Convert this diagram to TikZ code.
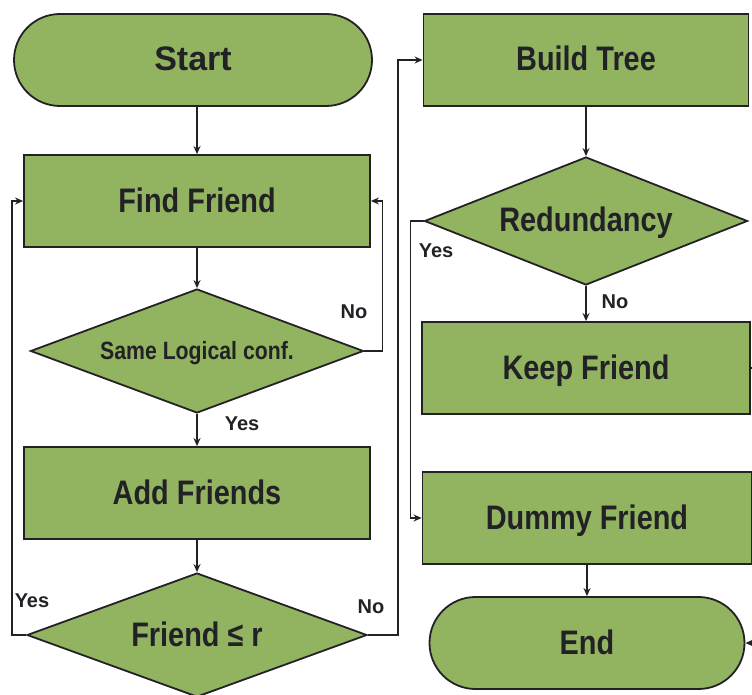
\documentclass[tikz,border=0pt]{standalone}
\usepackage{fontspec}
\usetikzlibrary{arrows.meta,shapes.geometric,shapes.misc}
\newfontfamily\chartfont[FakeStretch=0.85]{Liberation Sans}
\newfontfamily\plainfont{Liberation Sans}
\definecolor{grass}{RGB}{146,180,96}
\definecolor{ink}{RGB}{34,34,38}
\tikzset{
  >={Stealth[length=8pt,width=7pt]},
  block/.style={rectangle,draw=ink,fill=grass,line width=1.8pt,minimum width=#1,
    minimum height=92pt,inner sep=0pt,text=ink,text height=22pt,text depth=0pt,
    font=\chartfont\bfseries\fontsize{34}{38}\selectfont},
  block/.default=346pt,
  terminal/.style={block=#1,rounded rectangle},
  terminal/.default=358pt,
  decision/.style={diamond,draw=ink,fill=grass,line width=1.8pt,minimum width=#1,
    minimum height=124pt,shape aspect=2.7,inner sep=0pt,text=ink,text height=22pt,text depth=0pt,
    font=\chartfont\bfseries\fontsize{34}{38}\selectfont},
  decision/.default=340pt,
  flow/.style={->,line width=1.7pt,draw=ink},
  answer/.style={font=\plainfont\bfseries\fontsize{20}{22}\selectfont,text=ink},
}

\begin{document}
\begin{tikzpicture}[x=1pt,y=-1pt]
  \useasboundingbox (0,0) rectangle (752,695);
  \clip (0,0) rectangle (752,695);
  % left column
  \node[terminal,font=\plainfont\bfseries\fontsize{34}{38}\selectfont] (start) at (193,60) {Start};
  \node[block] (find) at (197,201) {Find Friend};
  \node[decision=333pt,text height=16pt,font=\chartfont\bfseries\fontsize{25}{28}\selectfont] (same) at (197,351) {Same Logical conf.};
  \node[block] (addf) at (197,493) {Add Friends};
  \node[decision] (check) at (197,635) {Friend ≤ r};
  % right column
  \node[block=325pt] (build) at (586,60) {Build Tree};
  \node[decision=323pt,minimum height=128pt,shape aspect=2.5] (redund) at (586,221) {Redundancy};
  \node[block=328pt] (keep) at (586,368) {Keep Friend};
  \node[block=329pt] (dummy) at (587,518) {Dummy Friend};
  \node[terminal=315pt] (finish) at (587,643) {End};
  % connectors
  \draw[flow] (start.south -| find) -- (find);
  \draw[flow] (find) -- (same);
  \draw[flow] (same) -- (addf);
  \draw[flow] (addf) -- (check);
  \draw[flow] (same.east) -- ++(18,0) |- (find.east);
  \draw[flow] (check.west) -- ++(-14,0) |- (find.west);
  \draw[flow] (check.east) -- ++(30,0) |- (build.west);
  \draw[flow] (build) -- (redund);
  \draw[flow] (redund) -- (keep);
  \draw[flow] (redund.west) -- ++(-13,0) |- (dummy.west);
  \draw[flow] (dummy) -- (finish);
  \draw[flow] (keep.east) -- ++(20,0) |- (finish.east);
  % branch labels
  \node[answer] (yesA) at (242,424) {Yes};
  \node[answer] (noA) at (354,312) {No};
  \node[answer] (yesB) at (32,601) {Yes};
  \node[answer] (noB) at (371,607) {No};
  \node[answer] (yesC) at (436,251) {Yes};
  \node[answer] (noC) at (615,302) {No};
\end{tikzpicture}
\end{document}
